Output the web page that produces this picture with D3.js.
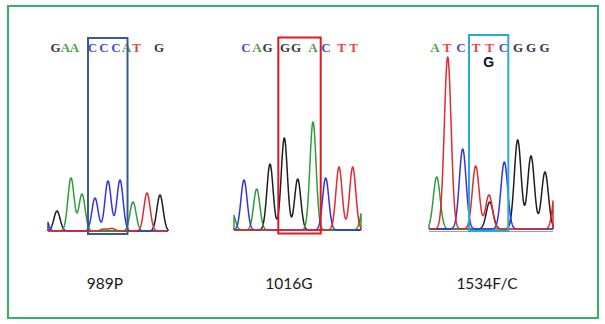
<!DOCTYPE html>
<html>
<head>
<meta charset="utf-8">
<script src="https://cdn.jsdelivr.net/npm/d3@7/dist/d3.min.js"></script>
<style>
  html, body { margin: 0; padding: 0; background: #fff; }
  svg { display: block; }
</style>
</head>
<body>
<svg id="fig" width="605" height="324"></svg>
<script>
// ---- Data: called bases, peak positions (scan units), peak heights (signal) ----
const mutationLabels = ["989P", "1016G", "1534F/C"];

const bases989   = ["G", "A", "A", "C", "C", "C", "A", "T", "G"];
const basePos989 = [9.5, 19.5, 28.5, 46.5, 58, 70, 80.5, 90.5, 113];
const peakBase989 = ["C", "G", "A", "A", "C", "T", "C", "T", "C", "A", "T", "G"];
const peakPos989  = [-2, 11, 25, 36, 49, 58, 62, 66, 74, 87, 101, 114];
const peakSig989  = [200, 200, 530, 370, 330, 20, 500, 25, 510, 290, 380, 360];

const bases1016   = ["C", "A", "G", "G", "G", "A", "C", "T", "T"];
const basePos1016 = [12, 23, 33.5, 51, 62, 79, 92, 107.5, 119.5];
const peakBase1016 = ["A", "C", "A", "G", "G", "G", "A", "C", "T", "T", "A"];
const peakPos1016  = [-2, 10, 22.7, 36, 50.3, 63.7, 79, 91.7, 105, 118.7, 130];
const peakSig1016  = [180, 500, 410, 660, 920, 510, 1080, 520, 630, 630, 260];

const bases1534   = ["A", "T", "C", "T", "T", "C", "G", "G", "G"];
const basePos1534 = [6, 18, 32, 47, 60.5, 74.5, 89, 102, 115.5];
const peakBase1534 = ["A", "T", "C", "T", "T", "G", "C", "G", "G", "G", "T"];
const peakPos1534  = [7.7, 18.7, 33.7, 46.7, 60, 60.7, 75.3, 88.7, 102, 116, 128];
const peakSig1534  = [520, 1720, 800, 630, 340, 270, 670, 890, 730, 570, 560];
const secondaryCall1534 = "G";

// ---- Styling ----
const baseColor = { A: "#2f9e3a", C: "#3434e0", G: "#1e1e1e", T: "#e32a2f" };
const letterColor = { A: "#4da24d", C: "#4b4be0", G: "#3a3a3a", T: "#e54545" };
const channelOrder = ["G", "A", "C", "T"];

// ---- Panel layout (pixels) ----
const panels = [
  { label: mutationLabels[0], bases: bases989, basePos: basePos989,
    peakBase: peakBase989, peakPos: peakPos989, peakSig: peakSig989,
    x0: 46, traceDomain: [2, 122], baseline: 231, sigma: 3.1,
    box: [42, 81.5], boxY: [38, 234], boxColor: "#3d5b87", labelX: 105 },
  { label: mutationLabels[1], bases: bases1016, basePos: basePos1016,
    peakBase: peakBase1016, peakPos: peakPos1016, peakSig: peakSig1016,
    x0: 234, traceDomain: [0, 127], baseline: 230, sigma: 3.1,
    box: [44.3, 86.7], boxY: [37.5, 233.5], boxColor: "#e3191f", labelX: 289 },
  { label: mutationLabels[2], bases: bases1534, basePos: basePos1534,
    peakBase: peakBase1534, peakPos: peakPos1534, peakSig: peakSig1534,
    x0: 429, traceDomain: [0, 124], baseline: 229, sigma: 3.4,
    box: [40, 79.3], boxY: [35, 231], boxColor: "#2aa9e0", labelX: 487,
    secondary: secondaryCall1534, grayBase: true }
];

const svg = d3.select("#fig");
svg.append("rect").attr("x", 0).attr("y", 0).attr("width", 605).attr("height", 324).attr("fill", "#fff");

// outer frame
svg.append("rect")
  .attr("x", 8).attr("y", 6).attr("width", 590).attr("height", 312)
  .attr("fill", "none").attr("stroke", "#34b067").attr("stroke-width", 2);

panels.forEach(p => {
  const g = svg.append("g");
  const x = d3.scaleLinear().domain([0, 100]).range([p.x0, p.x0 + 100]);
  const y = d3.scaleLinear().domain([0, 2000]).range([p.baseline, p.baseline - 200]);

  if (p.grayBase) {
    g.append("line")
      .attr("x1", x(p.traceDomain[0])).attr("x2", x(p.traceDomain[1]))
      .attr("y1", p.baseline + 2.5).attr("y2", p.baseline + 2.5)
      .attr("stroke", "#a0a0a0").attr("stroke-width", 1.2);
  }

  // one trace per dye channel: sum of gaussian-shaped peaks
  const line = d3.line().x(d => x(d[0])).y(d => y(d[1])).curve(d3.curveLinear);
  channelOrder.forEach(ch => {
    const idx = p.peakBase.map((b, i) => b === ch ? i : -1).filter(i => i >= 0);
    const pts = [];
    const [a, b] = p.traceDomain;
    pts.push([a, 0]);
    for (let s = a; s <= b + 1e-9; s += 0.25) {
      let v = 0;
      idx.forEach(i => {
        const d = s - p.peakPos[i];
        v += p.peakSig[i] * Math.exp(-(d * d) / (2 * p.sigma * p.sigma));
      });
      pts.push([s, v]);
    }
    pts.push([b, 0]);
    g.append("path")
      .attr("d", line(pts))
      .attr("fill", "none")
      .attr("stroke", baseColor[ch])
      .attr("stroke-width", 1.5)
      .attr("stroke-linejoin", "round");
  });

  // called bases along the top
  g.selectAll("text.base")
    .data(p.bases.map((b, i) => ({ b, s: p.basePos[i] })))
    .enter().append("text")
    .attr("class", "base")
    .attr("x", d => x(d.s))
    .attr("y", 52)
    .attr("text-anchor", "middle")
    .attr("font-family", "'Liberation Serif', 'DejaVu Serif', serif")
    .attr("font-weight", "bold")
    .attr("font-size", 13)
    .attr("fill", d => letterColor[d.b])
    .text(d => d.b);

  // highlighted codon box
  g.append("rect")
    .attr("x", x(p.box[0])).attr("y", p.boxY[0])
    .attr("width", x(p.box[1]) - x(p.box[0]))
    .attr("height", p.boxY[1] - p.boxY[0])
    .attr("fill", "none")
    .attr("stroke", p.boxColor)
    .attr("stroke-width", 2);

  if (p.secondary) {
    g.append("text")
      .attr("x", x((p.box[0] + p.box[1]) / 2))
      .attr("y", 67)
      .attr("text-anchor", "middle")
      .attr("font-family", "'Liberation Sans', Arial, sans-serif")
      .attr("font-weight", "bold")
      .attr("font-size", 14)
      .attr("fill", "#111")
      .text(p.secondary);
  }

  // mutation label under each trace
  g.append("text")
    .attr("x", p.labelX)
    .attr("y", 289)
    .attr("text-anchor", "middle")
    .attr("font-family", "Lato, 'Open Sans', sans-serif")
    .attr("font-size", 15.5)
    .attr("fill", "#1a1a1a")
    .text(p.label);
});
</script>
</body>
</html>
